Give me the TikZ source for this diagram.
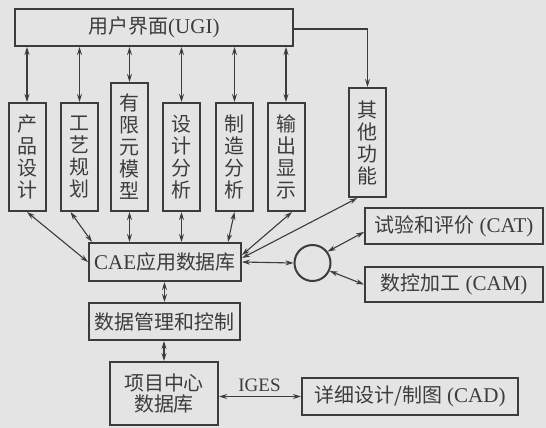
\documentclass[tikz,border=0pt]{standalone}
\usepackage{fontspec}
\setmainfont{Liberation Serif}
\newfontfamily\cjk{Noto Sans CJK SC}[Scale=0.95]
\usetikzlibrary{arrows.meta,calc}
\definecolor{bgc}{HTML}{E4E4E4}
\definecolor{ink}{HTML}{3C3C3C}
\begin{document}
\begin{tikzpicture}[x=1pt,y=-1pt,
  box/.style={draw=ink,line width=2pt,fill=bgc,inner sep=0pt,text=ink,
    font=\fontsize{21}{22}\selectfont},
  vbox/.style={box,align=center,minimum width=37pt,
    font=\cjk\fontsize{21}{22}\selectfont},
  tip/.tip={Stealth[length=8pt,width=5pt]},
  dar/.style={draw=ink,line width=1.1pt,{tip}-{tip}},
  sar/.style={draw=ink,line width=1.1pt,-{tip}}]
\fill[bgc] (0,0) rectangle (546,428);
\useasboundingbox (0,0) rectangle (546,428);

% boxes
\node[box,minimum width=278pt,minimum height=37pt] (ugi) at (154,27.5) {{\cjk 用户界面}(UGI)};
\node[vbox,minimum height=108pt] (cp) at (27,157) {产\\品\\设\\计};
\node[vbox,minimum height=108pt] (gy) at (79.5,157) {工\\艺\\规\\划};
\node[vbox,minimum height=128pt] (yx) at (129.5,147) {有\\限\\元\\模\\型};
\node[vbox,minimum height=108pt] (sj) at (181.5,157) {设\\计\\分\\析};
\node[vbox,minimum height=108pt] (zz) at (234.5,157) {制\\造\\分\\析};
\node[vbox,minimum height=108pt] (sc) at (286,157) {输\\出\\显\\示};
\node[vbox,minimum height=109pt] (qt) at (367.5,142.5) {其\\他\\功\\能};
\node[box,minimum width=152pt,minimum height=38pt] (cae) at (165,262) {CAE{\cjk 应用数据库}};
\node[draw=ink,line width=2pt,circle,minimum size=36pt,inner sep=0pt] (ci) at (312.5,263) {};
\node[box,minimum width=178pt,minimum height=36pt] (cat) at (454,226) {{\cjk 试验和评价} (CAT)};
\node[box,minimum width=178pt,minimum height=35pt] (cam) at (454,284.5) {{\cjk 数控加工} (CAM)};
\node[box,minimum width=151pt,minimum height=37pt] (sjgl) at (164.5,321.5) {\cjk 数据管理和控制};
\node[box,minimum width=108pt,minimum height=63pt,align=center,
  font=\cjk\fontsize{21}{21}\selectfont] (xm) at (164,393.5) {项目中心\\数据库};
\node[box,minimum width=216pt,minimum height=37pt] (cad) at (410,396.5) {{\cjk 详细设计/制图} (CAD)};
\node[text=ink,inner sep=0pt,font=\fontsize{19}{20}\selectfont] (iges) at (259.5,385) {IGES};

% connectors from the user interface
\foreach \v in {cp,gy,yx,sj,zz,sc}
  \draw[dar] (\v.north |- ugi.south) -- (\v.north);
\draw[sar] ([yshift=-1.5pt]ugi.east) -| (qt.north);

% connectors to the CAE database
\draw[dar] (cp.south) -- (cae.west);
\draw[dar] ([xshift=-9pt]gy.south) -- ([xshift=4pt]cae.north west);
\draw[dar] (yx.south) -- (yx.south |- cae.north);
\draw[dar] (sj.south) -- (sj.south |- cae.north);
\draw[dar] (zz.south) -- ([xshift=63pt]cae.north);
\draw[dar] ([xshift=6pt]sc.south) -- ([yshift=7pt]cae.east);
\draw[dar] ([xshift=-10pt]qt.south) -- ([yshift=4pt]cae.east);
\draw[dar] (cae.east) -- (ci.west);
\draw[dar] (ci.37) -- ([yshift=-6pt]cat.west);
\draw[dar] (ci.-25) -- (cam.west);

% lower chain
\draw[dar] (sjgl.north |- cae.south) -- (sjgl.north);
\draw[dar] (xm.north |- sjgl.south) -- (xm.north);
\draw[dar] (xm.east |- cad.west) -- (cad.west);
\end{tikzpicture}
\end{document}
